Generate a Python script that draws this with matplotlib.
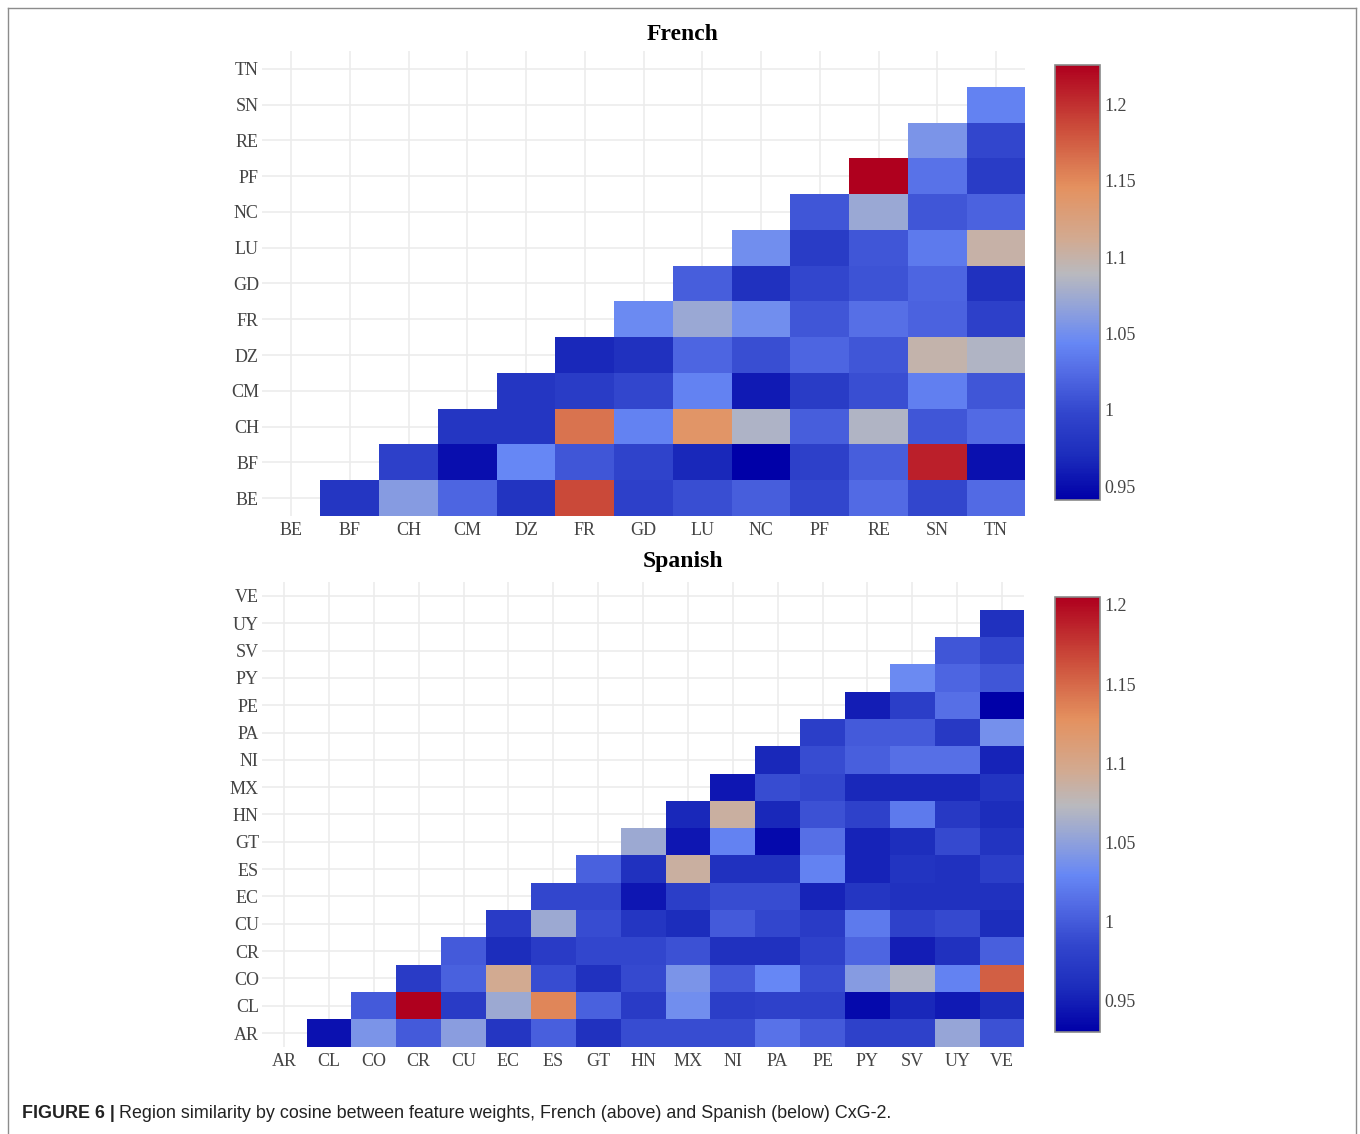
import numpy as np
import matplotlib
matplotlib.use("Agg")
import matplotlib.pyplot as plt
from matplotlib.colors import LinearSegmentedColormap, Normalize
from matplotlib.lines import Line2D

# Region codes
fr_regions = ["BE", "BF", "CH", "CM", "DZ", "FR", "GD", "LU", "NC", "PF", "RE", "SN", "TN"]
es_regions = ["AR", "CL", "CO", "CR", "CU", "EC", "ES", "GT", "HN", "MX", "NI", "PA",
              "PE", "PY", "SV", "UY", "VE"]

# Similarity of each region (row) with every later region (columns to the right)
fr_values = [
    [0.981, 1.061, 1.021, 0.978, 1.186, 0.992, 1.004, 1.015, 0.998, 1.024, 0.998, 1.024],  # BE
    [0.992, 0.950, 1.044, 1.009, 0.995, 0.967, 0.941, 0.992, 1.015, 1.209, 0.952],         # BF
    [0.981, 0.981, 1.163, 1.041, 1.141, 1.083, 1.015, 1.084, 1.009, 1.024],                # CH
    [0.981, 0.987, 0.998, 1.041, 0.958, 0.987, 1.004, 1.038, 1.009],                       # CM
    [0.967, 0.975, 1.021, 1.004, 1.021, 1.009, 1.098, 1.084],                              # DZ
    [1.046, 1.072, 1.049, 1.009, 1.027, 1.018, 0.992],                                     # FR
    [1.015, 0.975, 0.998, 1.007, 1.021, 0.975],                                            # GD
    [1.049, 0.987, 1.009, 1.035, 1.101],                                                   # LU
    [1.009, 1.072, 1.009, 1.018],                                                          # NC
    [1.226, 1.029, 0.987],                                                                 # PF
    [1.055, 0.998],                                                                        # RE
    [1.041],                                                                               # SN
]

es_values = [
    [0.941, 1.040, 0.999, 1.048, 0.968, 1.002, 0.963, 0.990, 0.990, 0.990, 1.015, 0.999,
     0.980, 0.980, 1.054, 0.993],                                                          # AR
    [0.999, 1.205, 0.974, 1.057, 1.134, 1.004, 0.974, 1.035, 0.977, 0.980, 0.980, 0.936,
     0.955, 0.947, 0.958],                                                                 # CL
    [0.974, 1.004, 1.095, 0.990, 0.963, 0.988, 1.040, 0.999, 1.029, 0.990, 1.046, 1.068,
     1.026, 1.155],                                                                        # CO
    [0.999, 0.958, 0.974, 0.985, 0.985, 0.993, 0.963, 0.963, 0.980, 1.007, 0.949, 0.963,
     1.002],                                                                               # CR
    [0.974, 1.057, 0.990, 0.968, 0.958, 0.999, 0.985, 0.974, 1.021, 0.980, 0.988, 0.958],  # CU
    [0.985, 0.985, 0.944, 0.977, 0.990, 0.990, 0.952, 0.968, 0.963, 0.963, 0.963],         # EC
    [1.004, 0.963, 1.087, 0.963, 0.963, 1.026, 0.952, 0.966, 0.963, 0.977],                # ES
    [1.057, 0.944, 1.026, 0.936, 1.013, 0.952, 0.960, 0.988, 0.966],                       # GT
    [0.955, 1.087, 0.955, 0.993, 0.980, 1.021, 0.971, 0.958],                              # HN
    [0.944, 0.990, 0.985, 0.955, 0.955, 0.955, 0.966],                                     # MX
    [0.955, 0.990, 1.002, 1.013, 1.013, 0.952],                                            # NI
    [0.977, 0.999, 0.999, 0.971, 1.037],                                                   # PA
    [0.949, 0.977, 1.013, 0.930],                                                          # PE
    [1.032, 1.007, 0.996],                                                                 # PY
    [0.996, 0.985],                                                                        # SV
    [0.963],                                                                               # UY
]

cbar_ticks = [0.95, 1.0, 1.05, 1.1, 1.15, 1.2]
cbar_ticklabels = ["0.95", "1", "1.05", "1.1", "1.15", "1.2"]

# Blue - grey - red scale
stops = [
    (0.00, (0, 0, 168)),
    (0.10, (28, 44, 188)),
    (0.20, (50, 70, 205)),
    (0.30, (85, 110, 230)),
    (0.36, (102, 135, 245)),
    (0.45, (150, 165, 215)),
    (0.52, (185, 185, 190)),
    (0.60, (210, 170, 145)),
    (0.72, (228, 145, 95)),
    (0.85, (205, 80, 60)),
    (1.00, (175, 0, 30)),
]
cmap = LinearSegmentedColormap.from_list(
    "simscale", [(p, tuple(c / 255 for c in rgb)) for p, rgb in stops])

TICK_COLOR = "#444444"
SERIF = ["Liberation Serif", "DejaVu Serif"]
TICK_SIZE = 13

W, H = 1360, 1134
fig = plt.figure(figsize=(W / 100, H / 100), dpi=100)


def to_matrix(rows, n):
    m = np.full((n, n), np.nan)
    for i, r in enumerate(rows):
        m[i, i + 1:] = r
    return m


def draw_panel(ax_rect, cax_rect, labels, rows, title, title_y):
    n = len(labels)
    mat = to_matrix(rows, n)
    vmin, vmax = np.nanmin(mat), np.nanmax(mat)
    norm = Normalize(vmin=vmin, vmax=vmax)

    ax = fig.add_axes(ax_rect)
    edges = np.arange(n + 1) - 0.5
    mesh = ax.pcolormesh(edges, edges, np.ma.masked_invalid(mat), cmap=cmap, norm=norm,
                         edgecolors="none")
    ax.set_xlim(-0.5, n - 0.5)
    ax.set_ylim(-0.5, n - 0.5)
    ax.set_xticks(range(n))
    ax.set_yticks(range(n))
    ax.set_xticklabels(labels, family=SERIF, fontsize=TICK_SIZE, color=TICK_COLOR)
    ax.set_yticklabels(labels, family=SERIF, fontsize=TICK_SIZE, color=TICK_COLOR)
    ax.tick_params(length=0)
    ax.tick_params(axis="x", pad=4.5)
    ax.tick_params(axis="y", pad=2)
    ax.grid(True, color="#ececec", linewidth=1.2)
    ax.set_axisbelow(True)
    for s in ax.spines.values():
        s.set_visible(False)
    fig.text(683 / W, 1 - title_y / H, title, family=SERIF, fontsize=17,
             fontweight="bold", color="black", ha="center", va="center")

    cax = fig.add_axes(cax_rect)
    cb = fig.colorbar(mesh, cax=cax)
    cb.set_ticks(cbar_ticks)
    cb.set_ticklabels(cbar_ticklabels)
    cb.outline.set_edgecolor("#8a8a8a")
    cb.outline.set_linewidth(1.2)
    cax.tick_params(length=0, pad=3, labelsize=TICK_SIZE, labelcolor=TICK_COLOR)
    for t in cax.get_yticklabels():
        t.set_family(SERIF)
    return ax


draw_panel([0.1924, 0.5450, 0.5616, 0.4100], [0.7757, 0.5591, 0.0331, 0.3836],
           fr_regions, fr_values, "French", 35)
draw_panel([0.1924, 0.0770, 0.5609, 0.4095], [0.7757, 0.0899, 0.0331, 0.3836],
           es_regions, es_values, "Spanish", 562)

# Frame around the figure and caption
frame_kw = dict(color="#8c8c8c", linewidth=1.0, transform=fig.transFigure)
x0, x1, ytop = 8 / W, 1356 / W, 1 - 8 / H
fig.add_artist(Line2D([x0, x1], [ytop, ytop], **frame_kw))
fig.add_artist(Line2D([x0, x0], [ytop, -0.01], **frame_kw))
fig.add_artist(Line2D([x1, x1], [ytop, -0.01], **frame_kw))

cap_y = 1 - 1113 / H
cap_kw = dict(family=["Liberation Sans", "DejaVu Sans"], fontsize=12.9, va="center",
              color="#222222")
bold = fig.text(22 / W, cap_y, "FIGURE 6 |", fontweight="bold", **cap_kw)
renderer = fig.canvas.get_renderer()
bb = bold.get_window_extent(renderer=renderer)
fig.text((bb.x1 + 4) / W, cap_y,
         "Region similarity by cosine between feature weights, French (above) and "
         "Spanish (below) CxG-2.", **cap_kw)

fig.savefig("out.png", dpi=100)
